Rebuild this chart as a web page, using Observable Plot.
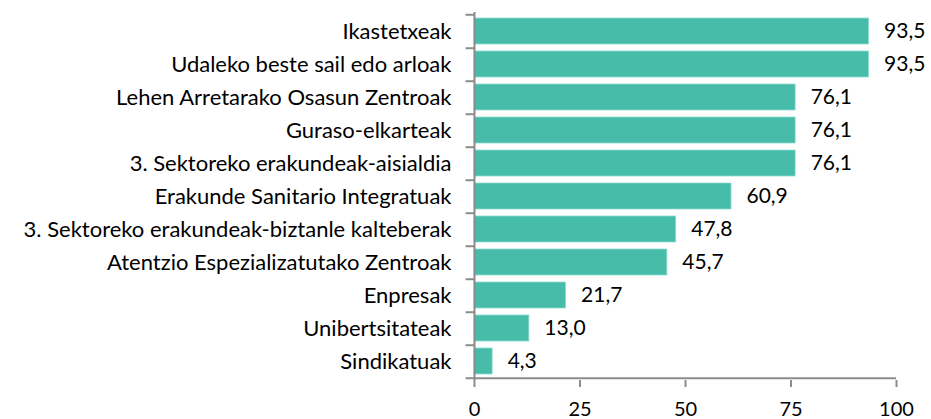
<!DOCTYPE html>
<html><head><meta charset="utf-8">
<script src="https://cdn.jsdelivr.net/npm/d3@7"></script>
<script src="https://cdn.jsdelivr.net/npm/@observablehq/plot@0.6"></script>
<style>body{margin:0;background:#fff}</style>
</head><body><div id="chart"></div>
<script>
const categories = ["Ikastetxeak","Udaleko beste sail edo arloak","Lehen Arretarako Osasun Zentroak","Guraso-elkarteak","3. Sektoreko erakundeak-aisialdia","Erakunde Sanitario Integratuak","3. Sektoreko erakundeak-biztanle kalteberak","Atentzio Espezializatutako Zentroak","Enpresak","Unibertsitateak","Sindikatuak"];
const values = [93.5,93.5,76.1,76.1,76.1,60.9,47.8,45.7,21.7,13.0,4.3];
const xTicks = [0,25,50,75,100];

const data = categories.map((c,i)=>({cat:c, v:values[i]}));
const H = 419, mT = 12, mB = 39;
const step = (H - mT - mB) / categories.length;
const fmt = v => v.toFixed(1).replace(".", ",");
const grey = "#8c8c8c";

const chart = Plot.plot({
  width: 931, height: H,
  marginLeft: 474, marginRight: 35, marginTop: mT, marginBottom: mB,
  style: {fontFamily: "Lato, sans-serif", fontSize: "20px", color: "#000", background: "#fff"},
  x: {domain: [0,100]},
  y: {domain: categories, paddingInner: 0.22, paddingOuter: 0.11},
  marks: [
    Plot.barX(data, {x: "v", y: "cat", fill: "#46bca9", stroke: "#8fdccf", strokeWidth: 0.8}),
    Plot.text(data, {x: "v", y: "cat", text: d => fmt(d.v), textAnchor: "start", dx: 15, fontSize: 21, fill: "#000"}),
    Plot.ruleX([0], {stroke: grey, strokeWidth: 2}),
    Plot.ruleY([categories[categories.length-1]], {x1: 0, x2: 100, dy: step/2, stroke: grey, strokeWidth: 2}),
    Plot.ruleY(categories, {x1: -2, x2: 0, dy: step/2, stroke: grey, strokeWidth: 2, clip: false}),
    Plot.ruleY([categories[0]], {x1: -2, x2: 0, dy: -step/2, stroke: grey, strokeWidth: 2}),
    Plot.axisY({tickSize: 0, tickPadding: 23, label: null, fontSize: 22}),
    Plot.axisX({ticks: xTicks, tickSize: 7, tickPadding: 14, stroke: grey, strokeWidth: 2, label: null, fontSize: 20, tickFormat: d => String(d)})
  ]
});
document.getElementById("chart").appendChild(chart);
</script>
</body></html>
